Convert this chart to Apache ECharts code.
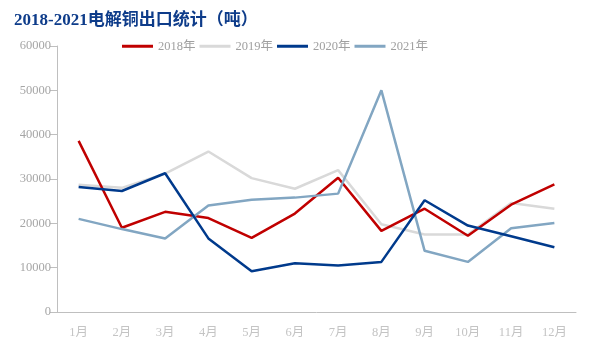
<!DOCTYPE html>
<html><head><meta charset="utf-8">
<script src="https://cdn.jsdelivr.net/npm/echarts@6/dist/echarts.min.js"></script>
<style>html,body{margin:0;padding:0;background:#fff}#c{width:589px;height:347px}</style>
</head><body><div id="c"></div>
<script>
var months = ['1月','2月','3月','4月','5月','6月','7月','8月','9月','10月','11月','12月'];
var s2018 = [38600,19000,22600,21200,16700,22200,30300,18300,23300,17200,24200,28800];
var s2019 = [28700,28000,31200,36200,30200,27800,32000,19800,17500,17500,24600,23300];
var s2020 = [28200,27300,31300,16600,9200,11000,10500,11300,25200,19500,17100,14600];
var s2021 = [21000,18700,16600,24000,25300,25800,26700,50000,13800,11300,18900,20100];
var names = ['2018年','2019年','2020年','2021年'];
var colors = ['#c00000','#d9d9d9','#003a8c','#82a6c2'];
var serif = '"Liberation Serif","Noto Sans CJK SC",serif';
var chart = echarts.init(document.getElementById('c'));
function mk(i, d){return {name:names[i],type:'line',data:d,symbol:'none',lineStyle:{width:2.5,color:colors[i]},itemStyle:{color:colors[i]},z:[2,1,4,3][i]};}
chart.setOption({
  animation:false,
  title:{text:'2018-2021电解铜出口统计（吨）',left:9,top:7,textStyle:{fontFamily:serif,fontSize:17,fontWeight:'bold',color:'#0e3c8a'}},
  legend:{top:35,left:117,itemWidth:31,itemHeight:3,itemGap:4,icon:'rect',textStyle:{fontFamily:serif,fontSize:12.5,color:'#a0a0a0'},data:names},
  grid:{left:57,right:13,top:46,bottom:35},
  xAxis:{type:'category',data:months,boundaryGap:true,
    axisLine:{lineStyle:{color:'#bfbfbf'}},axisTick:{inside:true,length:6,lineStyle:{color:'#bfbfbf'}},
    axisLabel:{fontFamily:serif,fontSize:12.5,color:'#c4c4c4',margin:14}},
  yAxis:{type:'value',min:0,max:60000,interval:10000,splitLine:{show:false},
    axisLine:{show:true,lineStyle:{color:'#bfbfbf'}},axisTick:{show:true,length:7,lineStyle:{color:'#bfbfbf'}},
    axisLabel:{fontFamily:serif,fontSize:12.5,color:'#a6a6a6',margin:6,formatter:function(v){return String(v);}}},
  series:[mk(0,s2018),mk(1,s2019),mk(2,s2020),mk(3,s2021)]
});
</script></body></html>
